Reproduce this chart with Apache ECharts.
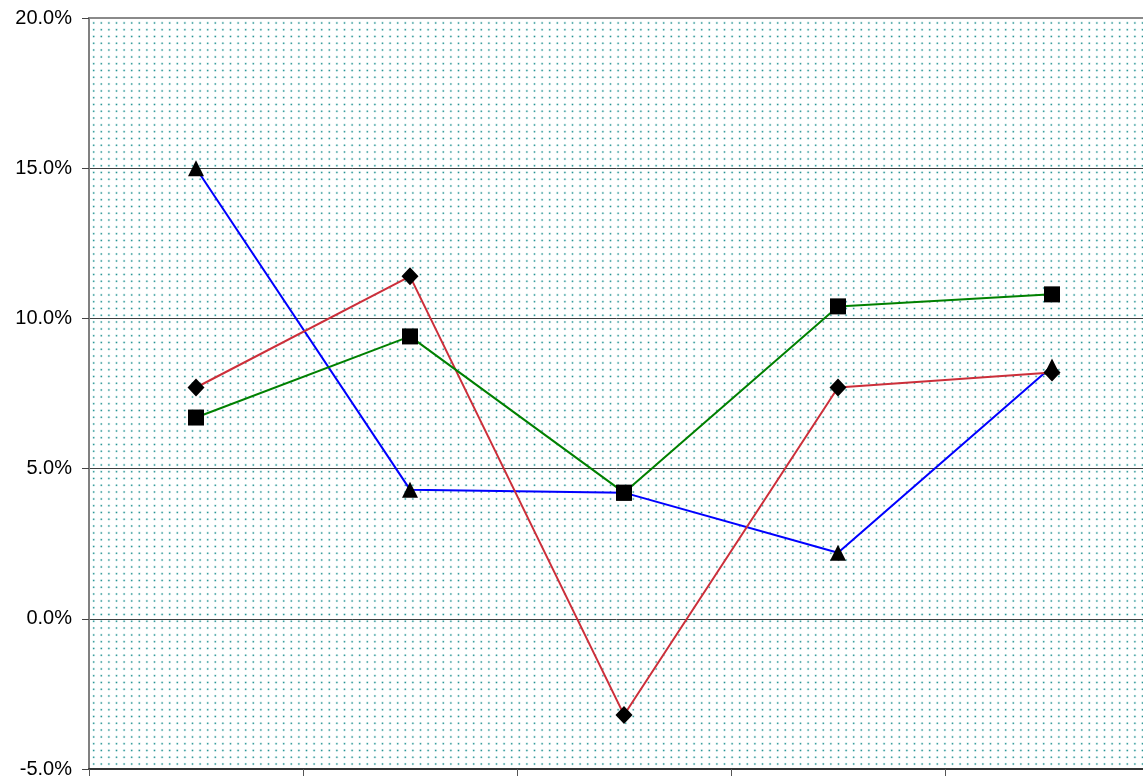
<!DOCTYPE html>
<html>
<head>
<meta charset="utf-8">
<script src="https://cdn.jsdelivr.net/npm/echarts@6/dist/echarts.min.js"></script>
<style>
  html, body { margin: 0; padding: 0; background: #ffffff; }
  #chart { width: 1143px; height: 778px; }
</style>
</head>
<body>
<div id="chart"></div>
<script>
// Periods along the category axis (tick labels are not shown)
const categories = ['P1', 'P2', 'P3', 'P4', 'P5'];

// Percentage values per series
const seriesBlue  = [15.0, 4.3, 4.2, 2.2, 8.4];
const seriesRed   = [7.7, 11.4, -3.2, 7.7, 8.2];
const seriesGreen = [6.7, 9.4, 4.2, 10.4, 10.8];

// Value axis range and step (percent)
const yMin = -5, yMax = 20, yStep = 5;

// Dotted fill for the plot area
function dotTile() {
  const w = 38, h = 34, nx = 5, ny = 5;
  const c = document.createElement('canvas');
  c.width = w; c.height = h;
  const ctx = c.getContext('2d');
  ctx.fillStyle = '#ffffff';
  ctx.fillRect(0, 0, w, h);
  for (let i = 0; i < nx; i++) {
    for (let j = 0; j < ny; j++) {
      const x = 2.5 + i * (w / nx);
      const y = 2.5 + j * (h / ny);
      ctx.fillStyle = 'rgba(60,170,170,0.22)';
      ctx.beginPath(); ctx.arc(x, y, 1.4, 0, Math.PI * 2); ctx.fill();
      ctx.fillStyle = 'rgba(20,135,135,0.9)';
      ctx.beginPath(); ctx.arc(x, y, 0.75, 0, Math.PI * 2); ctx.fill();
    }
  }
  return c;
}

const chart = echarts.init(document.getElementById('chart'), null, { renderer: 'canvas' });

function lineSeries(name, data, color, symbol, size) {
  return {
    name: name,
    type: 'line',
    data: data,
    symbol: symbol,
    symbolSize: size,
    showSymbol: true,
    lineStyle: { color: color, width: 2 },
    itemStyle: { color: '#000000', borderWidth: 0 },
    emphasis: { disabled: true }
  };
}

chart.setOption({
  animation: false,
  backgroundColor: '#ffffff',
  grid: {
    left: 89,
    top: 18,
    width: 1070,
    height: 751,
    outerBoundsMode: 'none',
    containLabel: false,
    show: true,
    backgroundColor: { image: dotTile(), repeat: 'repeat' },
    borderColor: '#8a8a8a',
    borderWidth: 2
  },
  xAxis: {
    type: 'category',
    data: categories,
    boundaryGap: true,
    axisLine: { show: true, onZero: false, lineStyle: { color: '#333333', width: 2 } },
    axisTick: { show: true, length: 7, lineStyle: { color: '#555555', width: 1 } },
    axisLabel: { show: false },
    splitLine: { show: false }
  },
  yAxis: {
    type: 'value',
    min: yMin,
    max: yMax,
    interval: yStep,
    axisLine: { show: true, lineStyle: { color: '#808080', width: 2 } },
    axisTick: { show: true, length: 7, lineStyle: { color: '#444444', width: 1 } },
    axisLabel: {
      margin: 17,
      fontFamily: 'Liberation Sans, Arial, sans-serif',
      fontSize: 20,
      color: '#000000',
      formatter: v => v.toFixed(1) + '%'
    },
    splitLine: {
      show: true,
      lineStyle: { color: ['#333333', '#404040', '#404040', '#404040', '#404040', '#8a8a8a'], width: 1 }
    }
  },
  series: [
    lineSeries('Blue', seriesBlue, '#0000ff', 'triangle', [16, 16]),
    lineSeries('Red', seriesRed, '#cc2f3a', 'diamond', [17, 18]),
    lineSeries('Green', seriesGreen, '#008000', 'rect', [16, 16])
  ]
});
</script>
</body>
</html>
